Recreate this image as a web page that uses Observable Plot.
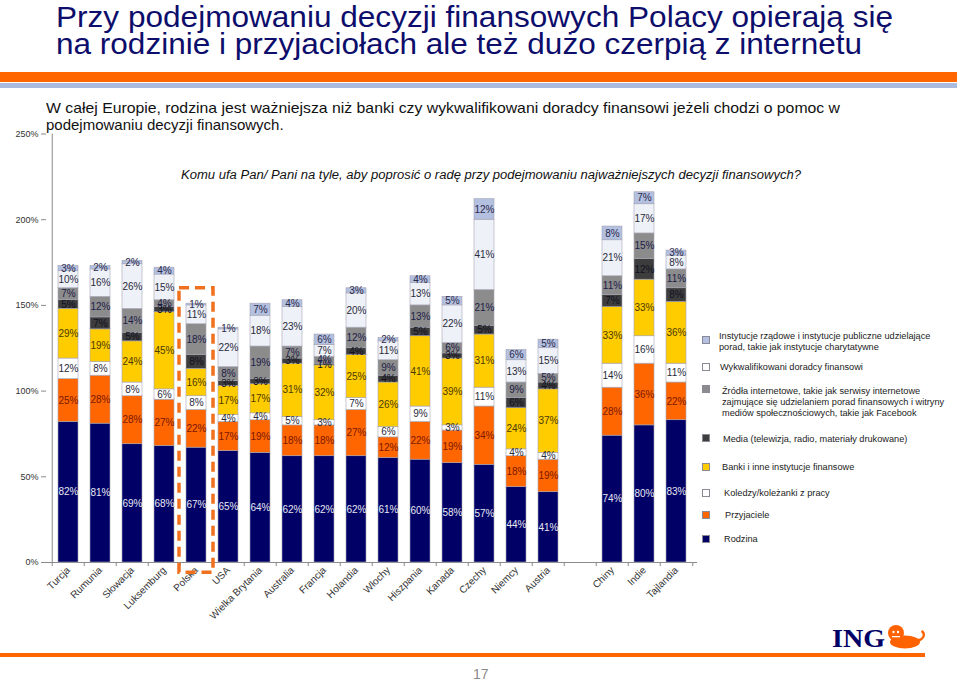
<!DOCTYPE html>
<html><head><meta charset="utf-8">
<script src="https://cdn.jsdelivr.net/npm/d3@7"></script>
<script src="https://cdn.jsdelivr.net/npm/@observablehq/plot@0.6"></script>
<style>
html,body{margin:0;padding:0;background:#fff}
body{width:960px;height:681px;position:relative;overflow:hidden;font-family:"Liberation Sans",Arial,sans-serif}
.a{position:absolute;white-space:nowrap;transform-origin:0 50%}
#chart{position:absolute;left:0;top:0}
.band{position:absolute}
.leg{position:absolute;font-size:9.2px;line-height:11px;color:#222;white-space:nowrap}
.mk{position:absolute;width:6px;height:6px;border:1px solid #8a8a96}
</style></head><body>
<div id="chart"></div>
<div id="overlay"></div>
<script>
// ---- data ----
const countries = ["Turcja","Rumunia","Słowacja","Luksemburg","Polska","USA","Wielka Brytania","Australia","Francja","Holandia","Włochy","Hiszpania","Kanada","Czechy","Niemcy","Austria","Chiny","Indie","Tajlandia"];
const gapSlot = " ";
const gapAfter = "Austria";
const highlight = ["Polska"];
const seriesNames = ["Rodzina","Przyjaciele","Koledzy/koleżanki z pracy","Banki i inne instytucje finansowe","Media (telewizja, radio, materiały drukowane)","Źródła internetowe","Wykwalifikowani doradcy finansowi","Instytucje rządowe"];
const rodzina     = [82,81,69,68,67,65,64,62,62,62,61,60,58,57,44,41,74,80,83];
const przyjaciele = [25,28,28,27,22,17,19,18,18,27,12,22,19,34,18,19,28,36,22];
const koledzy     = [12,8,8,6,8,4,4,5,3,7,6,9,3,11,4,4,14,16,11];
const banki       = [29,19,24,45,16,17,17,31,32,25,26,41,39,31,24,37,33,33,36];
const media       = [5,7,5,3,8,3,3,3,1,4,4,5,3,5,6,4,7,12,8];
const internet    = [7,12,14,4,18,8,19,7,4,12,9,13,6,21,9,5,11,15,11];
const doradcy     = [10,16,26,15,11,22,18,23,7,20,11,13,22,41,13,15,21,17,8];
const instytucje  = [3,2,2,4,1,1,7,4,6,3,2,4,5,12,6,5,8,7,3];
const yTicks = [0,50,100,150,200,250];

const seriesValues = [rodzina,przyjaciele,koledzy,banki,media,internet,doradcy,instytucje];
const fills = ["#000066","#FF6600","#FFFFFF","#FFCC00","#3d3d3d","#8c8c8c","#EEF1F8","#B4C0E0"];
const labelColors = ["#e8e8f2","#7a1800","#2a2a3a","#4a3a00","#111122","#1c1c48","#2a2a3a","#2a2a4a"];

const rows = [];
seriesNames.forEach((s, si) => countries.forEach((c, ci) => rows.push({country: c, series: s, si, value: seriesValues[si][ci]})));

const gi = countries.indexOf(gapAfter) + 1;
const xDomain = [...countries.slice(0, gi), gapSlot, ...countries.slice(gi)];

const mL = 46, mR = 263;
const step = (960 - mL - mR) / xDomain.length;
const axisColor = "#8a8a8a";

const plot = Plot.plot({
  width: 960, height: 681,
  marginTop: 133.5, marginBottom: 119, marginLeft: mL, marginRight: mR,
  x: {domain: xDomain, paddingInner: 0.386, paddingOuter: 0.193, axis: null},
  y: {domain: [0, 250], axis: null},
  color: {type: "identity"},
  style: {fontFamily: "'Liberation Sans', Arial, sans-serif", fontSize: "10px", overflow: "visible", background: "transparent", color: "#333"},
  marks: [
    Plot.ruleY([0], {stroke: axisColor}),
    Plot.ruleX([xDomain[0]], {y1: 0, y2: 250, dx: -step / 2, stroke: axisColor}),
    Plot.ruleX(xDomain, {y1: 0, y2: 0, dx: -step / 2, insetBottom: -4, stroke: axisColor}),
    Plot.ruleX([xDomain[xDomain.length - 1]], {y1: 0, y2: 0, dx: step / 2, insetBottom: -4, stroke: axisColor}),
    Plot.axisY({ticks: yTicks, tickFormat: d => d + "%", tickSize: 5, tickPadding: 3, fontSize: 9, stroke: axisColor, label: null}),
    Plot.axisX({tickSize: 0, tickRotate: -45, tickPadding: 6, fontSize: 10, tickFormat: d => d.trim(), label: null}),
    Plot.barY(rows, {x: "country", y: "value", z: "series", order: seriesNames, fill: d => fills[d.si], stroke: "#a4a4b4", strokeWidth: 0.6}),
    Plot.text(rows, Plot.stackY({x: "country", y: "value", z: "series", order: seriesNames, text: d => d.value + "%", fill: d => labelColors[d.si], fontSize: 10})),
    Plot.barY(highlight, {x: d => d, y1: -6, y2: 160, fill: "none", stroke: "#F0701E", strokeWidth: 3.5, strokeDasharray: "10,6", insetLeft: -7, insetRight: -7})
  ]
});
document.getElementById("chart").appendChild(plot);

// ---- overlay texts ----
const ov = document.getElementById("overlay");
function addText(txt, o) {
  const d = document.createElement("div");
  d.className = "a";
  d.textContent = txt;
  const fs = o.size;
  const lh = o.lh || fs;
  const k = o.serif ? 0.3375 : 0.3465;
  d.style.fontSize = fs + "px";
  d.style.lineHeight = lh + "px";
  d.style.left = o.left + "px";
  d.style.top = (o.baseline - lh / 2 - k * fs) + "px";
  d.style.color = o.color || "#111";
  if (o.weight) d.style.fontWeight = o.weight;
  if (o.italic) d.style.fontStyle = "italic";
  if (o.serif) d.style.fontFamily = "'Liberation Serif', 'Times New Roman', serif";
  ov.appendChild(d);
  if (o.width) {
    const w = d.getBoundingClientRect().width;
    d.style.transform = "scaleX(" + (o.width / w) + ")";
  }
  return d;
}
function band(l, t, w, h, c) {
  const d = document.createElement("div");
  d.className = "band";
  Object.assign(d.style, {left: l + "px", top: t + "px", width: w + "px", height: h + "px", background: c});
  ov.appendChild(d);
}
const titleColor = "#0d0d6b";
addText("Przy podejmowaniu decyzji finansowych Polacy opierają się", {left: 56, baseline: 27, size: 30, lh: 24, color: titleColor, width: 837});
addText("na rodzinie i przyjaciołach ale też dużo czerpią z internetu", {left: 56, baseline: 54, size: 30, lh: 24, color: titleColor, width: 806});
band(0, 72, 957, 10, "#FF6600");
band(0, 83, 957, 5, "#AABBDD");
addText("W całej Europie, rodzina jest ważniejsza niż banki czy wykwalifikowani doradcy finansowi jeżeli chodzi o pomoc w", {left: 46, baseline: 113, size: 15, color: "#111", width: 794});
addText("podejmowaniu decyzji finansowych.", {left: 46, baseline: 130, size: 15, color: "#111"});
addText("Komu ufa Pan/ Pani na tyle, aby poprosić o radę przy podejmowaniu najważniejszych decyzji finansowych?", {left: 181, baseline: 180, size: 12.5, color: "#111", italic: true, width: 620});

// legend
const legendItems = [
  {lines: ["Instytucje rządowe i instytucje publiczne udzielające", "porad, takie jak instytucje charytatywne"], fill: "#B4C0E0", c: 336, m: 340, x: 719},
  {lines: ["Wykwalifikowani doradcy finansowi"], fill: "#FFFFFF", c: 367, m: 367, x: 720},
  {lines: ["Źródła internetowe, takie jak serwisy internetowe", "zajmujące się udzielaniem porad finansowych i witryny", "mediów społecznościowych, takie jak Facebook"], fill: "#8c8c8c", c: 391, m: 389, x: 722},
  {lines: ["Media (telewizja, radio, materiały drukowane)"], fill: "#3d3d3d", c: 439, m: 438, x: 723},
  {lines: ["Banki i inne instytucje finansowe"], fill: "#FFCC00", c: 467, m: 467, x: 722},
  {lines: ["Koledzy/koleżanki z pracy"], fill: "#FFFFFF", c: 493, m: 493, x: 724},
  {lines: ["Przyjaciele"], fill: "#FF6600", c: 515, m: 515, x: 725},
  {lines: ["Rodzina"], fill: "#000066", c: 539, m: 539, x: 724}
];
legendItems.forEach(it => {
  const mk = document.createElement("div");
  mk.className = "mk";
  mk.style.left = "702px";
  mk.style.top = (it.m - 4) + "px";
  mk.style.background = it.fill;
  ov.appendChild(mk);
  const t = document.createElement("div");
  t.className = "leg";
  t.style.left = it.x + "px";
  t.style.top = (it.c - 5.5) + "px";
  t.innerHTML = it.lines.join("<br>");
  ov.appendChild(t);
});

// footer
band(0, 653, 925, 4, "#FF6600");
addText("17", {left: 473, baseline: 679, size: 14, lh: 12, color: "#8a8a8a"});
addText("ING", {left: 832, baseline: 647, size: 25, color: "#000066", weight: "bold", serif: true, width: 53});
const ns = "http://www.w3.org/2000/svg";
const lion = document.createElementNS(ns, "svg");
lion.setAttribute("width", "44"); lion.setAttribute("height", "26");
Object.assign(lion.style, {position: "absolute", left: "886px", top: "624px"});
lion.innerHTML = '<g fill="#FF6200" stroke="none">' +
  '<circle cx="10" cy="9" r="8"/>' +
  '<ellipse cx="19" cy="18" rx="15" ry="6.5"/>' +
  '<path d="M32 18 C40 16 41 8 36 6 L35 8 C38 10 37 15 31 15 Z"/>' +
  '</g><g fill="#fff"><circle cx="7.5" cy="8" r="1.2"/><circle cx="12" cy="8" r="1.2"/><path d="M6 12 h8 v1.3 h-8z"/></g>';
ov.appendChild(lion);
</script>
</body></html>
